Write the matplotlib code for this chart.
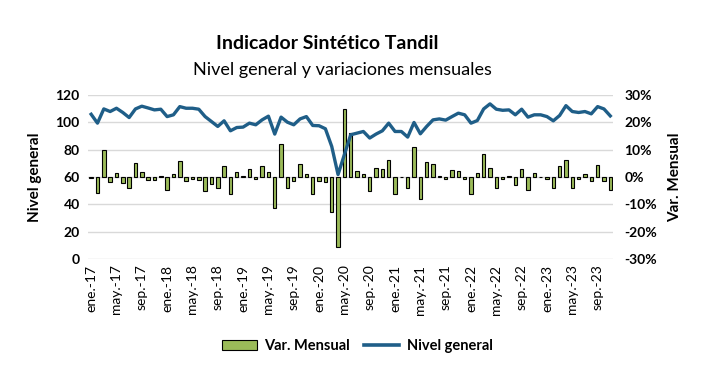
import matplotlib
matplotlib.use("Agg")
import matplotlib.pyplot as plt
from matplotlib.lines import Line2D
from matplotlib.patches import Patch

plt.rcParams['font.family'] = ['Lato', 'DejaVu Sans']

# datos mensuales, ene.-17 a nov.-23
anios = [17, 18, 19, 20, 21, 22, 23]
meses = ['ene.', 'feb.', 'mar.', 'abr.', 'may.', 'jun.',
         'jul.', 'ago.', 'sep.', 'oct.', 'nov.', 'dic.']

nivel = [105.9, 99.4, 109.8, 107.9, 110.3, 107.2, 103.5, 109.8, 111.8, 110.5, 109.1, 109.6,
         104.2, 105.5, 111.5, 110.3, 110.3, 109.6, 104.2, 100.6, 97.0, 101.1, 93.8, 96.2,
         96.5, 99.4, 98.2, 101.8, 104.5, 91.4, 103.8, 100.1, 98.2, 102.5, 104.2, 97.7,
         97.5, 95.3, 82.4, 61.8, 76.4, 90.9, 92.1, 93.3, 88.5, 91.4, 93.8, 99.4,
         93.3, 93.3, 89.2, 99.9, 91.6, 97.0, 101.8, 102.5, 101.6, 104.2, 106.7, 105.5,
         99.4, 101.3, 109.8, 113.5, 109.6, 108.8, 109.1, 105.5, 109.6, 103.8, 105.5, 105.5,
         104.2, 101.1, 105.0, 112.2, 107.9, 107.2, 107.9, 106.2, 111.5, 109.8, 104.7]

var_mensual = [-0.5, -5.7, 9.9, -1.7, 1.6, -2.1, -3.9, 5.2, 1.9, -1.0, -1.0, 0.3,
               -4.6, 1.0, 5.9, -1.3, -0.7, -1.1, -5.0, -2.4, -3.9, 3.9, -6.4, 1.9,
               0.2, 3.0, -0.6, 3.9, 1.9, -11.5, 12.1, -3.9, -1.3, 4.9, 1.0, -6.1,
               -1.5, -1.7, -12.7, -25.5, 24.8, 16.1, 2.3, 1.0, -5.0, 3.4, 2.8, 6.3,
               -6.4, 0.1, -4.2, 11.0, -7.9, 5.6, 4.8, 0.2, -0.6, 2.7, 2.3, -0.6,
               -6.1, 1.6, 8.5, 3.4, -3.9, -0.6, 0.2, -3.1, 3.0, -4.8, 1.6, 0.1,
               -0.6, -3.9, 4.1, 6.2, -4.2, -0.6, 1.2, -1.3, 4.5, -1.3, -4.6]

etiquetas = [f'{m}-{a}' for a in anios for m in meses][:len(nivel)]
x = list(range(len(nivel)))

color_barra = '#9BBB59'
color_linea = '#1F5E88'

fig = plt.figure(figsize=(7.2, 3.78), dpi=100)
ax = fig.add_axes([0.1222, 0.3148, 0.7298, 0.4339])
ax2 = ax.twinx()

# barras en eje secundario, linea por encima
ax2.bar(x, [v / 100 for v in var_mensual], width=0.55, color=color_barra,
        edgecolor='black', linewidth=0.8, zorder=2)
ax.plot(x, nivel, color=color_linea, linewidth=2.4, zorder=3)
ax.set_zorder(ax2.zorder + 1)
ax.patch.set_visible(False)

ax.set_xlim(-0.5, len(nivel) - 0.5)
ax.set_ylim(0, 120)
ax.set_yticks(range(0, 121, 20))
ax2.set_ylim(-0.3, 0.3)
ax2.set_yticks([-0.3, -0.2, -0.1, 0, 0.1, 0.2, 0.3])
ax2.set_yticklabels(['-30%', '-20%', '-10%', '0%', '10%', '20%', '30%'])

ax2.grid(axis='y', color='#D9D9D9', linewidth=1)
ax2.set_axisbelow(True)

ax.set_xticks(x[::4])
ax.set_xticklabels(etiquetas[::4], rotation=90, fontsize=10)

for a in (ax, ax2):
    for s in a.spines.values():
        s.set_visible(False)
    a.tick_params(length=0)

for lab in ax.get_yticklabels() + ax2.get_yticklabels():
    lab.set_fontsize(10)
    lab.set_fontweight('bold')
ax.tick_params(axis='y', pad=6)
ax2.tick_params(axis='y', pad=8)
ax.tick_params(axis='x', pad=4)

ax.set_ylabel('Nivel general', fontsize=11, fontweight='bold', labelpad=10)
ax2.set_ylabel('Var. Mensual', fontsize=11, fontweight='bold', rotation=90, labelpad=8)

fig.text(0.455, 0.885, 'Indicador Sintético Tandil', ha='center', va='center',
         fontsize=14, fontweight='bold')
fig.text(0.475, 0.815, 'Nivel general y variaciones mensuales', ha='center', va='center',
         fontsize=13)

handles = [Patch(facecolor=color_barra, edgecolor='black', linewidth=0.8),
           Line2D([0], [0], color=color_linea, linewidth=2.6)]
fig.legend(handles, ['Var. Mensual', 'Nivel general'], loc='center',
           bbox_to_anchor=(0.496, 0.085), ncol=2, frameon=False,
           prop={'weight': 'bold', 'size': 10.5}, handlelength=2.4,
           handletextpad=0.5, columnspacing=1.0)

fig.savefig('out.png', dpi=100)
